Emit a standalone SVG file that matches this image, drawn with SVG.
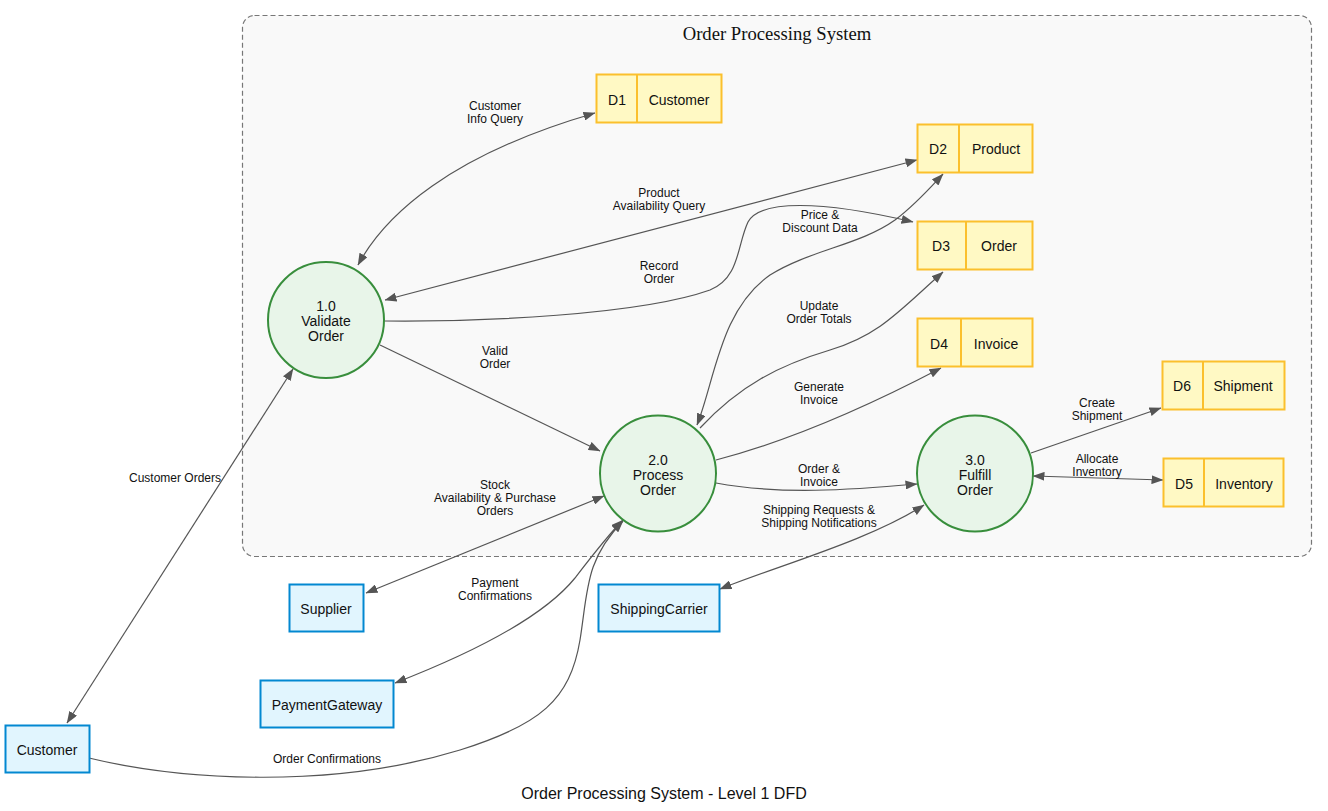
<svg xmlns="http://www.w3.org/2000/svg" width="1328" height="811" viewBox="0 0 1328 811">
<defs>
<marker id="arr" markerUnits="userSpaceOnUse" markerWidth="12" markerHeight="9" viewBox="0 0 12 9" refX="11.5" refY="4.5" orient="auto-start-reverse">
<path d="M0,0 L12,4.5 L0,9 z" fill="#555"/>
</marker>
</defs>
<style>
.cluster{fill:#f9f9f9;stroke:#777;stroke-width:1.2;stroke-dasharray:5,3}
.proc{fill:#e8f5e9;stroke:#388e3c;stroke-width:2}
.store{fill:#fff9c4;stroke:#fbc02d;stroke-width:2}
.ent{fill:#e1f5fe;stroke:#0288d1;stroke-width:2}
.edge{fill:none;stroke:#555;stroke-width:1.2}
.one{marker-end:url(#arr)}
.two{marker-start:url(#arr);marker-end:url(#arr)}
text{font-family:"Liberation Sans",Arial,sans-serif;fill:#111}
.nt{font-size:14px;text-anchor:middle}
.lb{font-size:12px;text-anchor:middle}
.title{font-family:"Liberation Serif","Times New Roman",serif;font-size:18.67px;text-anchor:middle}
.foot{font-size:16px;text-anchor:middle}
</style>
<rect width="1328" height="811" fill="#ffffff"/>
<g id="cluster">
<rect class="cluster" x="242.5" y="15.5" width="1069" height="541" rx="12"/>
<text class="title" x="777" y="40">Order Processing System</text>
</g>
<g id="connectors">
<path class="edge two" d="M67,723 L293,369"/>
<path class="edge two" d="M358,265 C385,215 450,155 595,113"/>
<path class="edge two" d="M385,300 L917,160"/>
<path class="edge one" d="M384,321 C480,322 640,315 710,290 C740,278 737,245 748,222 C760,200 820,200 913,222"/>
<path class="edge two" d="M697,425 C715,380 720,310 770,275 C810,250 860,245 895,220 C915,205 930,188 943,174"/>
<path class="edge one" d="M700,428 C740,385 780,365 830,350 C880,335 900,310 943,272"/>
<path class="edge one" d="M380,345 L600,451"/>
<path class="edge one" d="M716,460 C800,438 880,400 941,368"/>
<path class="edge one" d="M716,483 C780,495 850,490 917,484"/>
<path class="edge two" d="M366,593 L604,496"/>
<path class="edge two" d="M395,683 C480,650 545,615 575,578 C595,552 608,535 623,520"/>
<path class="edge one" d="M89,758 C180,780 330,790 460,750 C540,725 570,700 580,640 C588,590 585,560 623,521"/>
<path class="edge two" d="M720,589 C780,565 870,540 924,505"/>
<path class="edge one" d="M1031,453 L1161,408"/>
<path class="edge two" d="M1033,476 L1163,480"/>
<text class="lb" x="175" y="482">Customer Orders</text>
<text class="lb" x="495" y="110">Customer</text>
<text class="lb" x="495" y="123">Info Query</text>
<text class="lb" x="659" y="197">Product</text>
<text class="lb" x="659" y="210">Availability Query</text>
<text class="lb" x="659" y="270">Record</text>
<text class="lb" x="659" y="283">Order</text>
<text class="lb" x="820" y="219">Price &amp;</text>
<text class="lb" x="820" y="232">Discount Data</text>
<text class="lb" x="819" y="310">Update</text>
<text class="lb" x="819" y="323">Order Totals</text>
<text class="lb" x="495" y="355">Valid</text>
<text class="lb" x="495" y="368">Order</text>
<text class="lb" x="819" y="391">Generate</text>
<text class="lb" x="819" y="404">Invoice</text>
<text class="lb" x="819" y="473">Order &amp;</text>
<text class="lb" x="819" y="486">Invoice</text>
<text class="lb" x="495" y="489">Stock</text>
<text class="lb" x="495" y="502">Availability &amp; Purchase</text>
<text class="lb" x="495" y="515">Orders</text>
<text class="lb" x="819" y="514">Shipping Requests &amp;</text>
<text class="lb" x="819" y="527">Shipping Notifications</text>
<text class="lb" x="495" y="587">Payment</text>
<text class="lb" x="495" y="600">Confirmations</text>
<text class="lb" x="327" y="763">Order Confirmations</text>
<text class="lb" x="1097" y="407">Create</text>
<text class="lb" x="1097" y="420">Shipment</text>
<text class="lb" x="1097" y="463">Allocate</text>
<text class="lb" x="1097" y="476">Inventory</text>
</g>
<g id="p1">
<circle class="proc" cx="326" cy="320" r="58"/>
<text class="nt" x="326" y="311">1.0</text>
<text class="nt" x="326" y="326">Validate</text>
<text class="nt" x="326" y="341">Order</text>
</g>
<g id="p2">
<circle class="proc" cx="658" cy="473.5" r="58"/>
<text class="nt" x="658" y="465">2.0</text>
<text class="nt" x="658" y="480">Process</text>
<text class="nt" x="658" y="495">Order</text>
</g>
<g id="p3">
<circle class="proc" cx="975" cy="473.5" r="58"/>
<text class="nt" x="975" y="465">3.0</text>
<text class="nt" x="975" y="480">Fulfill</text>
<text class="nt" x="975" y="495">Order</text>
</g>
<g id="d1">
<rect class="store" x="596.5" y="74.5" width="125" height="48"/>
<line class="store" x1="637" y1="74.5" x2="637" y2="122.5"/>
<text class="nt" x="617" y="105">D1</text>
<text class="nt" x="679" y="105">Customer</text>
</g>
<g id="d2">
<rect class="store" x="917.5" y="124.5" width="115" height="48"/>
<line class="store" x1="959" y1="124.5" x2="959" y2="172.5"/>
<text class="nt" x="938" y="154">D2</text>
<text class="nt" x="996" y="154">Product</text>
</g>
<g id="d3">
<rect class="store" x="917.5" y="221.5" width="115" height="48"/>
<line class="store" x1="966" y1="221.5" x2="966" y2="269.5"/>
<text class="nt" x="941" y="251">D3</text>
<text class="nt" x="999" y="251">Order</text>
</g>
<g id="d4">
<rect class="store" x="917.5" y="318.5" width="115" height="48"/>
<line class="store" x1="961" y1="318.5" x2="961" y2="366.5"/>
<text class="nt" x="939" y="349">D4</text>
<text class="nt" x="996" y="349">Invoice</text>
</g>
<g id="d6">
<rect class="store" x="1162.5" y="361.5" width="122" height="48"/>
<line class="store" x1="1203" y1="361.5" x2="1203" y2="409.5"/>
<text class="nt" x="1182" y="391">D6</text>
<text class="nt" x="1243" y="391">Shipment</text>
</g>
<g id="d5">
<rect class="store" x="1163.5" y="458.5" width="120" height="48"/>
<line class="store" x1="1204" y1="458.5" x2="1204" y2="506.5"/>
<text class="nt" x="1184" y="489">D5</text>
<text class="nt" x="1244" y="489">Inventory</text>
</g>
<g id="supplier">
<rect class="ent" x="289.5" y="584.5" width="74" height="47"/>
<text class="nt" x="326" y="614">Supplier</text>
</g>
<g id="shippingcarrier">
<rect class="ent" x="598.5" y="584.5" width="121" height="47"/>
<text class="nt" x="659" y="614">ShippingCarrier</text>
</g>
<g id="paymentgateway">
<rect class="ent" x="260.5" y="680.5" width="133" height="47"/>
<text class="nt" x="327" y="710">PaymentGateway</text>
</g>
<g id="customer">
<rect class="ent" x="5.5" y="725.5" width="84" height="47"/>
<text class="nt" x="47" y="755">Customer</text>
</g>
<text class="foot" x="664" y="799">Order Processing System - Level 1 DFD</text>
</svg>
